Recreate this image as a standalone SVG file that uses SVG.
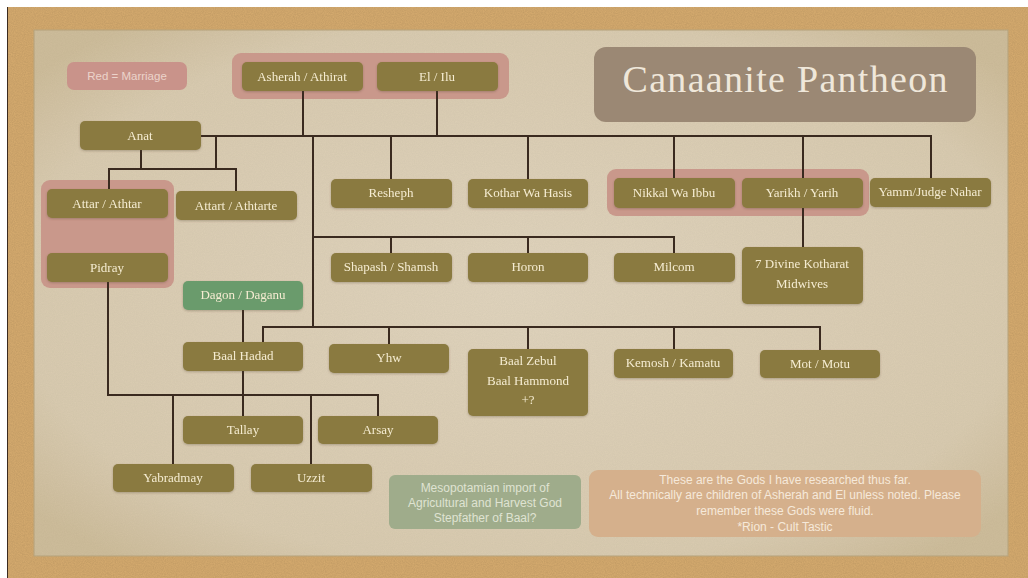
<svg xmlns="http://www.w3.org/2000/svg" width="1028" height="578" viewBox="0 0 1028 578">
<defs>
<style>
.node rect{fill:#8a7a3f;}
.node text,.t{font-family:"Liberation Serif","DejaVu Serif",serif;font-size:13px;fill:#f5ecd2;text-anchor:middle;}
.marry{fill:#c9988b;}
.conn line,.conn polyline{stroke:#3a2a1f;stroke-width:2;fill:none;}
.note text{font-family:"Liberation Sans",Arial,sans-serif;font-size:12px;text-anchor:middle;}
</style>
<filter id="noise" x="0" y="0" width="100%" height="100%">
<feTurbulence type="fractalNoise" baseFrequency="0.9" numOctaves="2" seed="3" result="n"/>
<feColorMatrix type="matrix" values="0 0 0 0 0  0 0 0 0 0  0 0 0 0 0  0 0 0 0.18 0" in="n" result="a"/>
<feComposite in="a" in2="SourceGraphic" operator="in"/>
</filter>
<filter id="sh" x="-10%" y="-20%" width="120%" height="150%">
<feDropShadow dx="0" dy="1" stdDeviation="1" flood-color="#5a4a30" flood-opacity="0.35"/>
</filter>
<radialGradient id="paperG" cx="50%" cy="50%" r="65%">
<stop offset="0" stop-color="#e0d4bd"/>
<stop offset="0.8" stop-color="#d9cbb0"/>
<stop offset="1" stop-color="#cebd9b"/>
</radialGradient>
</defs>

<!-- frame / cork -->
<rect x="0" y="0" width="1028" height="578" fill="#ffffff"/>
<rect x="7" y="7" width="1021" height="571" fill="#d8ad70"/>
<rect x="7" y="7" width="1021" height="571" fill="#000" opacity="0.6" filter="url(#noise)"/>
<line x1="7.5" y1="7" x2="7.5" y2="578" stroke="#3a2a1f" stroke-width="1"/>

<!-- paper -->
<rect x="34" y="30" width="974" height="526" fill="url(#paperG)" stroke="#b8a47c" stroke-width="1"/>
<rect x="34" y="30" width="974" height="526" fill="#000" opacity="0.2" filter="url(#noise)"/>

<!-- marriage groupings -->
<g id="legend">
<rect x="67" y="62" width="120" height="28" rx="7" fill="#c9938a"/>
<text x="127" y="80" style="font-family:'Liberation Sans',Arial,sans-serif;font-size:11.5px;fill:#ecd3cb;text-anchor:middle;">Red = Marriage</text>
</g>
<rect class="marry" x="232" y="53" width="277" height="46" rx="9"/>
<rect class="marry" x="41" y="180" width="133" height="108" rx="9"/>
<rect class="marry" x="607" y="169" width="262" height="47" rx="9"/>

<!-- title -->
<g id="title">
<rect x="594" y="47" width="382" height="75" rx="12" fill="#9b8874"/>
<text x="785" y="92" style="font-family:'Liberation Serif',serif;font-size:38px;fill:#efe7da;text-anchor:middle;" textLength="325">Canaanite Pantheon</text>
</g>

<!-- connectors -->
<g class="conn" id="connectors">
<line x1="303" y1="91" x2="303" y2="136"/>
<line x1="437" y1="91" x2="437" y2="136"/>
<line x1="201" y1="136" x2="932" y2="136"/>
<line x1="216" y1="136" x2="216" y2="169"/>
<line x1="141" y1="150" x2="141" y2="169"/>
<polyline points="109,189 109,169 236,169 236,191"/>
<line x1="391" y1="136" x2="391" y2="179"/>
<line x1="528" y1="136" x2="528" y2="179"/>
<line x1="674" y1="136" x2="674" y2="178"/>
<line x1="803" y1="136" x2="803" y2="178"/>
<line x1="931" y1="136" x2="931" y2="178"/>
<line x1="803" y1="208" x2="803" y2="247"/>
<line x1="313" y1="136" x2="313" y2="327"/>
<polyline points="313,237 674,237 674,253"/>
<line x1="391" y1="237" x2="391" y2="253"/>
<line x1="528" y1="237" x2="528" y2="253"/>
<polyline points="263,342 263,327 820,327 820,350"/>
<line x1="389" y1="327" x2="389" y2="344"/>
<line x1="528" y1="327" x2="528" y2="349"/>
<line x1="674" y1="327" x2="674" y2="349"/>
<line x1="243" y1="310" x2="243" y2="342"/>
<line x1="243" y1="371" x2="243" y2="416"/>
<polyline points="108,282 108,395 378,395 378,416"/>
<line x1="173" y1="395" x2="173" y2="464"/>
<line x1="311" y1="395" x2="311" y2="464"/>
</g>

<!-- nodes -->
<g id="asherah" class="node" filter="url(#sh)"><rect x="242" y="62" width="121" height="29" rx="5"/><text x="302" y="81">Asherah / Athirat</text></g>
<g id="el" class="node" filter="url(#sh)"><rect x="377" y="62" width="121" height="29" rx="5"/><text x="437" y="81">El / Ilu</text></g>
<g id="anat" class="node" filter="url(#sh)"><rect x="80" y="121" width="121" height="29" rx="5"/><text x="140" y="140">Anat</text></g>
<g id="attar" class="node" filter="url(#sh)"><rect x="47" y="189" width="121" height="29" rx="5"/><text x="107" y="208">Attar / Athtar</text></g>
<g id="attart" class="node" filter="url(#sh)"><rect x="176" y="191" width="121" height="29" rx="5"/><text x="236" y="210">Attart / Athtarte</text></g>
<g id="pidray" class="node" filter="url(#sh)"><rect x="47" y="253" width="121" height="29" rx="5"/><text x="107" y="272">Pidray</text></g>
<g id="resheph" class="node" filter="url(#sh)"><rect x="331" y="179" width="121" height="29" rx="5"/><text x="391" y="197">Resheph</text></g>
<g id="kothar" class="node" filter="url(#sh)"><rect x="468" y="179" width="120" height="29" rx="5"/><text x="528" y="197">Kothar Wa Hasis</text></g>
<g id="nikkal" class="node" filter="url(#sh)"><rect x="614" y="178" width="121" height="30" rx="5"/><text x="674" y="197">Nikkal Wa Ibbu</text></g>
<g id="yarikh" class="node" filter="url(#sh)"><rect x="742" y="178" width="121" height="30" rx="5"/><text x="802" y="197">Yarikh / Yarih</text></g>
<g id="yamm" class="node" filter="url(#sh)"><rect x="870" y="178" width="121" height="29" rx="5"/><text x="930" y="196">Yamm/Judge Nahar</text></g>
<g id="shapash" class="node" filter="url(#sh)"><rect x="331" y="253" width="121" height="29" rx="5"/><text x="391" y="271">Shapash / Shamsh</text></g>
<g id="horon" class="node" filter="url(#sh)"><rect x="468" y="253" width="120" height="29" rx="5"/><text x="528" y="271">Horon</text></g>
<g id="milcom" class="node" filter="url(#sh)"><rect x="614" y="253" width="121" height="29" rx="5"/><text x="674" y="271">Milcom</text></g>
<g id="kotharat" class="node" filter="url(#sh)"><rect x="742" y="247" width="121" height="57" rx="5"/><text x="802" y="268">7 Divine Kotharat</text><text x="802" y="288">Midwives</text></g>
<g id="dagon" filter="url(#sh)"><rect x="183" y="281" width="120" height="29" rx="5" fill="#6b9b6c"/><text class="t" x="243" y="299">Dagon / Daganu</text></g>
<g id="baalhadad" class="node" filter="url(#sh)"><rect x="183" y="342" width="120" height="29" rx="5"/><text x="243" y="360">Baal Hadad</text></g>
<g id="yhw" class="node" filter="url(#sh)"><rect x="329" y="344" width="120" height="29" rx="5"/><text x="389" y="362">Yhw</text></g>
<g id="baalzebul" class="node" filter="url(#sh)"><rect x="468" y="349" width="120" height="67" rx="5"/><text x="528" y="365">Baal Zebul</text><text x="528" y="385">Baal Hammond</text><text x="528" y="404">+?</text></g>
<g id="kemosh" class="node" filter="url(#sh)"><rect x="614" y="349" width="119" height="29" rx="5"/><text x="673" y="367">Kemosh / Kamatu</text></g>
<g id="mot" class="node" filter="url(#sh)"><rect x="760" y="350" width="120" height="28" rx="5"/><text x="820" y="368">Mot / Motu</text></g>
<g id="tallay" class="node" filter="url(#sh)"><rect x="183" y="416" width="120" height="28" rx="5"/><text x="243" y="434">Tallay</text></g>
<g id="arsay" class="node" filter="url(#sh)"><rect x="318" y="416" width="120" height="28" rx="5"/><text x="378" y="434">Arsay</text></g>
<g id="yabradmay" class="node" filter="url(#sh)"><rect x="113" y="464" width="121" height="28" rx="5"/><text x="173" y="482">Yabradmay</text></g>
<g id="uzzit" class="node" filter="url(#sh)"><rect x="251" y="464" width="121" height="28" rx="5"/><text x="311" y="482">Uzzit</text></g>

<!-- notes -->
<g id="note-dagon" class="note">
<rect x="389" y="475" width="192" height="54" rx="6" fill="#9fac8b"/>
<text x="485" y="492" fill="#dfe3d2">Mesopotamian import of</text>
<text x="485" y="507" fill="#dfe3d2">Agricultural and Harvest God</text>
<text x="485" y="522" fill="#dfe3d2">Stepfather of Baal?</text>
</g>
<g id="note-main" class="note">
<rect x="589" y="470" width="392" height="67" rx="9" fill="#d5b08c"/>
<text x="785" y="484" fill="#f5e9da">These are the Gods I have researched thus far.</text>
<text x="785" y="499" fill="#f5e9da">All technically are children of Asherah and El unless noted. Please</text>
<text x="785" y="515" fill="#f5e9da">remember these Gods were fluid.</text>
<text x="785" y="531" fill="#f5e9da">*Rion - Cult Tastic</text>
</g>
</svg>
